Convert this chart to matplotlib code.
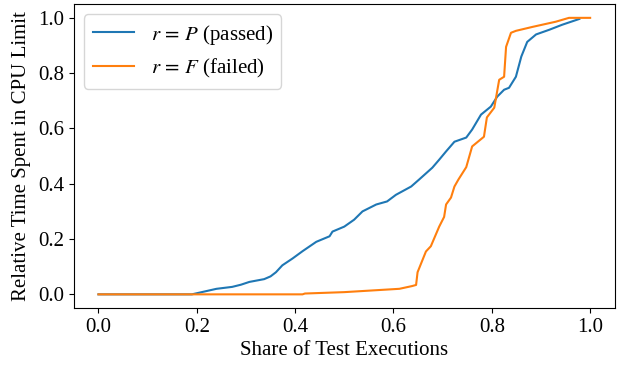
import matplotlib.pyplot as plt
import numpy as np

plt.rcParams['font.family'] = ['Liberation Serif', 'DejaVu Serif']
plt.rcParams['mathtext.fontset'] = 'stix'
plt.rcParams['font.size'] = 15

# sorted relative CPU time
passed_x = [0.0, 0.19, 0.215, 0.24, 0.272, 0.29, 0.307, 0.337, 0.35, 0.361, 0.374, 0.395,
            0.415, 0.443, 0.47, 0.476, 0.5, 0.52, 0.537, 0.565, 0.587, 0.605, 0.636,
            0.652, 0.679, 0.693, 0.707, 0.724, 0.748, 0.76, 0.778, 0.798, 0.811,
            0.825, 0.835, 0.849, 0.86, 0.872, 0.89, 0.917, 0.943, 0.978]
passed_y = [0.0, 0.0, 0.01, 0.02, 0.027, 0.035, 0.045, 0.055, 0.065, 0.08, 0.105, 0.13,
            0.156, 0.19, 0.21, 0.227, 0.245, 0.27, 0.30, 0.325, 0.336, 0.36, 0.39,
            0.415, 0.458, 0.487, 0.517, 0.552, 0.567, 0.596, 0.65, 0.679, 0.715,
            0.74, 0.747, 0.787, 0.86, 0.913, 0.94, 0.957, 0.975, 0.996]

failed_x = [0.0, 0.415, 0.42, 0.5, 0.612, 0.638, 0.646, 0.649, 0.666, 0.676, 0.693,
            0.703, 0.707, 0.717, 0.724, 0.732, 0.748, 0.76, 0.784, 0.79, 0.805,
            0.815, 0.825, 0.829, 0.839, 0.849, 0.882, 0.93, 0.957, 1.0]
failed_y = [0.0, 0.0, 0.003, 0.008, 0.02, 0.03, 0.034, 0.08, 0.155, 0.174, 0.245,
            0.28, 0.325, 0.35, 0.39, 0.415, 0.46, 0.535, 0.57, 0.64, 0.675,
            0.776, 0.787, 0.895, 0.946, 0.953, 0.967, 0.986, 1.0, 1.0]

fig = plt.figure(figsize=(6.26, 3.66), dpi=100)
ax = fig.add_axes([0.118, 0.158, 0.864, 0.831])

ax.plot(passed_x, passed_y, color='#1f77b4', lw=1.5, label=r'$r\,=\,P$ (passed)')
ax.plot(failed_x, failed_y, color='#ff7f0e', lw=1.5, label=r'$r\,=\,F$ (failed)')

ax.set_xlabel('Share of Test Executions', labelpad=3)
ax.set_ylabel('Relative Time Spent in CPU Limit', labelpad=5)
ax.set_xticks(np.arange(0, 1.01, 0.2))
ax.set_yticks(np.arange(0, 1.01, 0.2))
ax.legend(loc='upper left')

plt.savefig('out.png')
plt.close()
